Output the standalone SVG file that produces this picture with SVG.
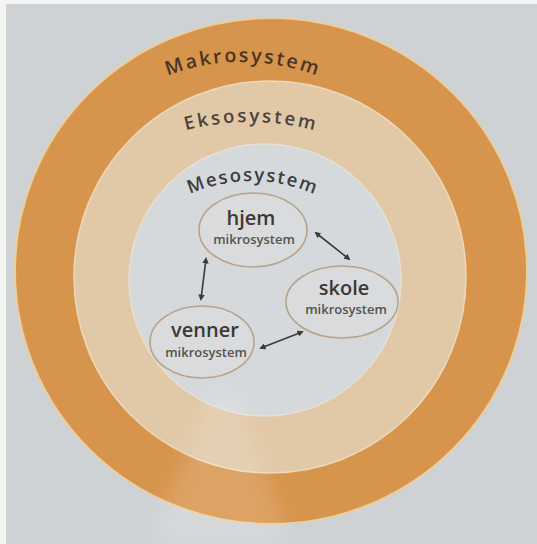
<svg xmlns="http://www.w3.org/2000/svg" width="537" height="544" viewBox="0 0 537 544">
  <defs>
    <style>
      .ring-label { font-family: "Open Sans", "DejaVu Sans", sans-serif; font-size: 19.5px; font-weight: 600; }
      .node-title { font-family: "Open Sans", "DejaVu Sans", sans-serif; font-size: 20px; font-weight: 600; fill: #3b3936; text-anchor: middle; }
      .node-sub { font-family: "Open Sans", "DejaVu Sans", sans-serif; font-size: 13px; font-weight: 600; fill: #555350; text-anchor: middle; }
      .node-shape { fill: #d9dbdc; stroke: #b7a389; stroke-width: 1.6; }
      .conn { stroke: #3e3c3a; stroke-width: 1.6; fill: none; marker-start: url(#ah); marker-end: url(#ah); }
    </style>
    <marker id="ah" viewBox="0 0 10 10" refX="7" refY="5" markerWidth="4" markerHeight="4" orient="auto-start-reverse">
      <path d="M0,0 L10,5 L0,10 z" fill="#3e3c3a"/>
    </marker>
    <filter id="soft" x="-50%" y="-50%" width="200%" height="200%">
      <feGaussianBlur stdDeviation="10"/>
    </filter>
    <path id="arcMakro" d="M 32,272 A 210 210 0 0 1 452,272"/>
    <path id="arcEkso" d="M 0,372 A 250 250 0 0 1 500,372"/>
    <path id="arcMeso" d="M 97,336 A 155 155 0 0 1 407,336"/>
  </defs>

  <!-- background -->
  <rect x="0" y="0" width="537" height="544" fill="#f4f4f3"/>
  <rect x="6" y="4" width="531" height="540" fill="#cfd2d4"/>

  <!-- rings -->
  <g id="makrosystem">
    <ellipse cx="271" cy="271" rx="256" ry="253" fill="#d7944c" stroke="#e9cf9f" stroke-width="2"/>
  </g>
  <g id="eksosystem">
    <circle cx="270" cy="277" r="196" fill="#e1c8a7" stroke="#ecd9b9" stroke-width="1.5"/>
  </g>
  <g id="mesosystem">
    <circle cx="265" cy="280" r="136" fill="#d6d9db" stroke="#e6e0d4" stroke-width="1.5"/>
  </g>

  <!-- photo glare -->
  <polygon points="212,390 240,400 290,544 150,544" fill="#ffffff" opacity="0.14" filter="url(#soft)"/>

  <!-- ring labels -->
  <text class="ring-label" fill="#4a3524"><textPath href="#arcMakro" startOffset="50%" text-anchor="middle" textLength="152" lengthAdjust="spacing">Makrosystem</textPath></text>
  <text class="ring-label" fill="#4a4240" style="font-size:18.5px"><textPath href="#arcEkso" startOffset="50%" text-anchor="middle" textLength="130" lengthAdjust="spacing">Eksosystem</textPath></text>
  <text class="ring-label" fill="#3d3d40" style="font-size:18.5px"><textPath href="#arcMeso" startOffset="50%" text-anchor="middle" textLength="128" lengthAdjust="spacing">Mesosystem</textPath></text>

  <!-- nodes -->
  <g id="hjem">
    <ellipse class="node-shape" cx="253" cy="230" rx="54" ry="37"/>
    <text class="node-title" x="251" y="225">hjem</text>
    <text class="node-sub" x="254" y="244">mikrosystem</text>
  </g>
  <g id="skole">
    <ellipse class="node-shape" cx="342" cy="302" rx="56" ry="36"/>
    <text class="node-title" x="344" y="295">skole</text>
    <text class="node-sub" x="346" y="314">mikrosystem</text>
  </g>
  <g id="venner">
    <ellipse class="node-shape" cx="202" cy="342" rx="52" ry="36"/>
    <text class="node-title" x="205" y="337">venner</text>
    <text class="node-sub" x="206" y="357">mikrosystem</text>
  </g>

  <!-- connectors -->
  <g id="connectors">
    <line class="conn" x1="206" y1="259" x2="201" y2="299"/>
    <line class="conn" x1="316" y1="233" x2="349" y2="259"/>
    <line class="conn" x1="261" y1="348" x2="302" y2="332"/>
  </g>
</svg>
